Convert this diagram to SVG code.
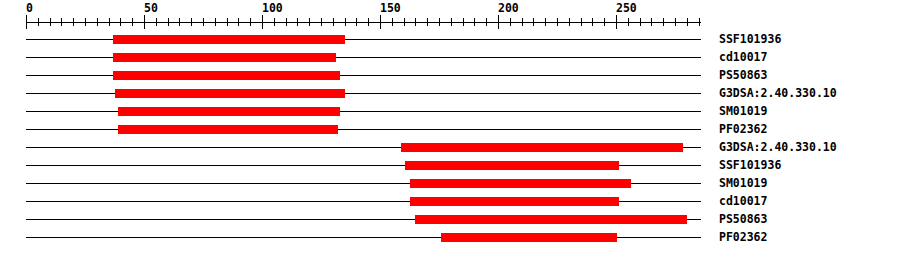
<svg xmlns="http://www.w3.org/2000/svg" width="900" height="256" viewBox="0 0 900 256">
<style>
text{font-family:"DejaVu Sans Mono","Liberation Mono",monospace;font-weight:bold;font-size:11.5px;fill:#000}
.ln{stroke:#000;stroke-width:1;fill:none}
.bar{fill:#ff0000}
</style>
<rect width="900" height="256" fill="#fff"/>
<g id="ruler">
<path class="ln" d="M26 22.5H701"/>
<path class="ln" d="M26.5 15V29M144.5 15V29M262.5 15V29M380.5 15V29M498.5 15V29M616.5 15V29"/>
<path class="ln" d="M38.5 18V26M50.5 18V26M61.5 18V26M73.5 18V26M85.5 18V26M97.5 18V26M109.5 18V26M120.5 18V26M132.5 18V26M156.5 18V26M168.5 18V26M179.5 18V26M191.5 18V26M203.5 18V26M215.5 18V26M227.5 18V26M238.5 18V26M250.5 18V26M274.5 18V26M286.5 18V26M297.5 18V26M309.5 18V26M321.5 18V26M333.5 18V26M345.5 18V26M356.5 18V26M368.5 18V26M392.5 18V26M404.5 18V26M415.5 18V26M427.5 18V26M439.5 18V26M451.5 18V26M463.5 18V26M474.5 18V26M486.5 18V26M510.5 18V26M522.5 18V26M533.5 18V26M545.5 18V26M557.5 18V26M569.5 18V26M581.5 18V26M592.5 18V26M604.5 18V26M628.5 18V26M640.5 18V26M651.5 18V26M663.5 18V26M675.5 18V26M687.5 18V26M699.5 18V26"/>
<text x="26" y="12">0</text>
<text x="144" y="12">50</text>
<text x="262" y="12">100</text>
<text x="380" y="12">150</text>
<text x="498" y="12">200</text>
<text x="616" y="12">250</text>
</g>
<g id="connectors">
<path class="ln" d="M26 39.5H701M26 57.5H701M26 75.5H701M26 93.5H701M26 111.5H701M26 129.5H701M26 147.5H701M26 165.5H701M26 183.5H701M26 201.5H701M26 219.5H701M26 237.5H701"/>
</g>
<g id="row1"><rect class="bar" x="113" y="35" width="232" height="9"/><text x="719" y="43">SSF101936</text></g>
<g id="row2"><rect class="bar" x="113" y="53" width="223" height="9"/><text x="719" y="61">cd10017</text></g>
<g id="row3"><rect class="bar" x="113" y="71" width="227" height="9"/><text x="719" y="79">PS50863</text></g>
<g id="row4"><rect class="bar" x="115" y="89" width="230" height="9"/><text x="719" y="97">G3DSA:2.40.330.10</text></g>
<g id="row5"><rect class="bar" x="118" y="107" width="222" height="9"/><text x="719" y="115">SM01019</text></g>
<g id="row6"><rect class="bar" x="118" y="125" width="220" height="9"/><text x="719" y="133">PF02362</text></g>
<g id="row7"><rect class="bar" x="401" y="143" width="282" height="9"/><text x="719" y="151">G3DSA:2.40.330.10</text></g>
<g id="row8"><rect class="bar" x="405" y="161" width="214" height="9"/><text x="719" y="169">SSF101936</text></g>
<g id="row9"><rect class="bar" x="410" y="179" width="221" height="9"/><text x="719" y="187">SM01019</text></g>
<g id="row10"><rect class="bar" x="410" y="197" width="209" height="9"/><text x="719" y="205">cd10017</text></g>
<g id="row11"><rect class="bar" x="415" y="215" width="272" height="9"/><text x="719" y="223">PS50863</text></g>
<g id="row12"><rect class="bar" x="441" y="233" width="176" height="9"/><text x="719" y="241">PF02362</text></g>
</svg>
